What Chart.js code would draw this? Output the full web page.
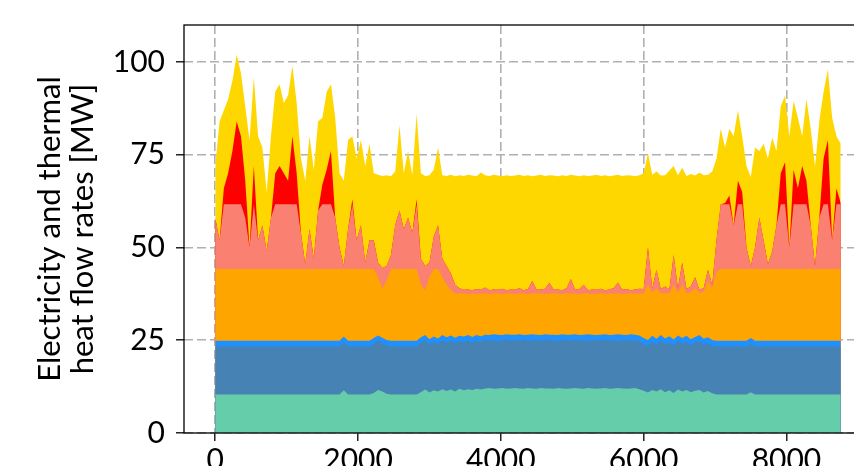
<!DOCTYPE html>
<html>
<head>
<meta charset="utf-8">
<script src="https://cdn.jsdelivr.net/npm/chart.js@4.4.1/dist/chart.umd.min.js"></script>
<style>
  html, body { margin: 0; padding: 0; background: #fff; overflow: hidden; }
  #wrap { width: 854px; height: 466px; overflow: hidden; }
</style>
</head>
<body>
<div id="wrap"><canvas id="myChart" width="900" height="480"></canvas></div>
<script>
// sample times: one point every 60 h over the year
const hours = Array.from({ length: 147 }, (_, i) => i * 60);

const xTicks = [0, 2000, 4000, 6000, 8000];
const yTicks = [0, 25, 50, 75, 100];
const yTitle = ['Electricity and thermal', 'heat flow rates [MW]'];

// upper edge of each stacked layer [MW]
const tealTop = [
    10.4, 10.4, 10.4, 10.4, 10.4, 10.4, 10.4, 10.4, 10.4, 10.4,
    10.4, 10.4, 10.4, 10.4, 10.4, 10.4, 10.4, 10.4, 10.4, 10.4,
    10.4, 10.4, 10.4, 10.4, 10.4, 10.4, 10.4, 10.4, 10.4, 10.4,
    11.5, 10.4, 10.4, 10.4, 10.4, 10.4, 10.4, 10.8, 11.6, 11.2,
    10.6, 10.4, 10.4, 10.4, 10.4, 10.4, 10.4, 10.4, 11.0, 11.7,
    10.9, 11.5, 11.2, 11.8, 11.3, 11.7, 11.2, 11.9, 11.5, 11.8,
    11.6, 11.9, 11.7, 12.0, 12.1, 11.9, 12.0, 12.1, 11.9, 12.0,
    12.1, 12.0, 11.9, 12.1, 12.0, 11.9, 12.1, 12.0, 12.0, 11.9,
    12.1, 12.0, 11.9, 12.0, 12.1, 12.0, 11.9, 12.1, 12.0, 11.9,
    12.0, 12.1, 11.9, 12.0, 12.1, 12.0, 11.9, 12.0, 12.1, 11.8,
    11.4, 10.9, 11.6, 11.2, 11.8, 11.0, 11.5, 10.8, 11.7, 11.2,
    11.6, 11.0, 11.4, 11.6, 10.9, 11.3, 10.7, 10.4, 10.4, 10.4,
    10.4, 10.4, 10.4, 10.4, 10.4, 11.0, 10.4, 10.4, 10.4, 10.4,
    10.4, 10.4, 10.4, 10.4, 10.4, 10.4, 10.4, 10.4, 10.4, 10.4,
    10.4, 10.4, 10.4, 10.4, 10.4, 10.4, 10.4
];

const steelTop = [
    23.3, 23.3, 23.3, 23.3, 23.3, 23.3, 23.3, 23.3, 23.3, 23.3,
    23.3, 23.3, 23.3, 23.3, 23.3, 23.3, 23.3, 23.3, 23.3, 23.3,
    23.3, 23.3, 23.3, 23.3, 23.3, 23.3, 23.3, 23.3, 23.3, 23.3,
    24.5, 23.3, 23.3, 23.3, 23.3, 23.3, 23.3, 24.0, 25.0, 24.2,
    23.6, 23.3, 23.3, 23.3, 23.3, 23.3, 23.3, 23.3, 24.4, 25.0,
    23.8, 24.6, 24.0, 25.0, 24.3, 24.9, 24.2, 24.8, 24.5, 25.0,
    24.4, 24.9, 24.6, 25.1, 24.8, 25.1, 24.7, 25.0, 25.2, 24.8,
    25.1, 24.9, 25.2, 24.7, 25.0, 25.1, 24.8, 25.2, 24.9, 25.0,
    24.7, 25.1, 25.0, 24.8, 25.2, 24.9, 25.0, 24.7, 25.1, 25.0,
    24.8, 25.2, 24.9, 25.0, 24.7, 25.1, 25.0, 24.8, 25.1, 24.6,
    24.0, 23.5, 24.6, 23.8, 24.9, 23.9, 24.5, 23.6, 24.8, 24.0,
    24.6, 23.7, 24.3, 24.8, 23.8, 24.2, 23.5, 23.3, 23.3, 23.3,
    23.3, 23.3, 23.3, 23.3, 23.3, 24.0, 23.3, 23.3, 23.3, 23.3,
    23.3, 23.3, 23.3, 23.3, 23.3, 23.3, 23.3, 23.3, 23.3, 23.3,
    23.3, 23.3, 23.3, 23.3, 23.3, 23.3, 23.3
];

const blueTop = [
    24.9, 24.9, 24.9, 24.9, 24.9, 24.9, 24.9, 24.9, 24.9, 24.9,
    24.9, 24.9, 24.9, 24.9, 24.9, 24.9, 24.9, 24.9, 24.9, 24.9,
    24.9, 24.9, 24.9, 24.9, 24.9, 24.9, 24.9, 24.9, 24.9, 24.9,
    26.0, 24.9, 24.9, 24.9, 24.9, 24.9, 24.9, 25.6, 26.3, 25.7,
    25.1, 24.9, 24.9, 24.9, 24.9, 24.9, 24.9, 24.9, 25.8, 26.4,
    25.3, 26.0, 25.5, 26.4, 25.8, 26.3, 25.7, 26.2, 26.0, 26.4,
    25.9, 26.4, 26.1, 26.5, 26.4, 26.6, 26.5, 26.4, 26.6, 26.5,
    26.5, 26.6, 26.4, 26.5, 26.6, 26.5, 26.4, 26.6, 26.5, 26.5,
    26.4, 26.6, 26.5, 26.5, 26.6, 26.4, 26.5, 26.6, 26.5, 26.4,
    26.5, 26.6, 26.4, 26.5, 26.6, 26.5, 26.4, 26.6, 26.5, 26.3,
    25.6, 25.1, 26.2, 25.4, 26.4, 25.5, 26.1, 25.2, 26.3, 25.6,
    26.2, 25.3, 25.9, 26.4, 25.4, 25.8, 25.1, 24.9, 24.9, 24.9,
    24.9, 24.9, 24.9, 24.9, 24.9, 25.6, 24.9, 24.9, 24.9, 24.9,
    24.9, 24.9, 24.9, 24.9, 24.9, 24.9, 24.9, 24.9, 24.9, 24.9,
    24.9, 24.9, 24.9, 24.9, 24.9, 24.9, 24.9
];

const orangeTop = [
    44.2, 44.2, 44.2, 44.2, 44.2, 44.2, 44.2, 44.2, 44.2, 44.2,
    44.2, 44.2, 44.2, 44.2, 44.2, 44.2, 44.2, 44.2, 44.2, 44.2,
    44.2, 44.2, 44.2, 44.2, 44.2, 44.2, 44.2, 44.2, 44.2, 44.2,
    44.2, 44.2, 44.2, 44.2, 44.2, 44.2, 44.2, 44.2, 42.0, 39.0,
    41.0, 44.2, 44.2, 44.2, 44.2, 44.2, 44.2, 44.2, 40.0, 38.5,
    42.0, 44.2, 44.2, 42.0, 40.0, 38.5, 37.7, 37.6, 37.6, 37.5,
    37.6, 37.5, 37.7, 37.6, 37.5, 37.6, 37.7, 37.5, 37.6, 37.6,
    37.5, 37.7, 37.6, 37.5, 37.6, 37.7, 37.6, 37.5, 37.6, 37.7,
    37.6, 37.5, 37.7, 37.6, 37.6, 37.5, 37.7, 37.6, 37.5, 37.6,
    37.7, 37.5, 37.6, 37.6, 37.7, 37.5, 37.6, 37.7, 37.6, 37.6,
    37.7, 40.0, 37.8, 39.0, 37.7, 37.8, 37.7, 40.0, 37.8, 40.0,
    37.7, 38.0, 39.0, 37.8, 38.0, 41.0, 39.0, 43.5, 44.2, 44.2,
    44.2, 44.2, 44.2, 44.2, 44.2, 44.2, 44.2, 44.2, 44.2, 44.2,
    44.2, 44.2, 44.2, 44.2, 44.2, 44.2, 44.2, 44.2, 44.2, 44.2,
    44.2, 44.2, 44.2, 44.2, 44.2, 44.2, 44.2
];

const salmonTop = [
    58.0, 52.0, 61.7, 61.7, 61.7, 61.7, 61.7, 58.0, 50.0, 61.7,
    52.0, 56.0, 49.0, 58.0, 61.7, 61.7, 61.7, 61.7, 61.7, 61.7,
    54.0, 45.5, 55.0, 47.0, 60.0, 61.7, 61.7, 61.7, 58.0, 50.0,
    45.0, 55.0, 61.7, 52.0, 56.0, 46.0, 52.0, 52.0, 46.0, 44.5,
    45.0, 48.0, 56.0, 60.0, 55.0, 58.0, 54.0, 61.7, 47.0, 45.0,
    46.0, 53.0, 56.0, 47.0, 45.0, 43.0, 40.0, 39.0, 38.6, 38.7,
    38.5, 38.8, 38.6, 39.2, 38.5, 38.7, 38.6, 38.9, 38.5, 38.7,
    38.6, 39.0, 38.5, 38.8, 41.0, 38.6, 38.7, 38.9, 40.5, 38.6,
    38.7, 38.5, 39.0, 41.5, 38.6, 38.8, 40.0, 38.5, 38.7, 38.6,
    38.9, 38.5, 38.7, 39.1, 40.5, 38.6, 38.8, 38.5, 38.7, 38.9,
    38.8, 50.0, 39.0, 44.0, 38.8, 39.5, 38.7, 48.0, 39.0, 46.0,
    38.8, 39.5, 42.0, 38.7, 39.0, 44.0, 40.0, 52.0, 61.7, 61.7,
    61.7, 56.0, 61.7, 61.7, 50.0, 45.0, 50.0, 58.0, 52.0, 45.5,
    49.0, 56.0, 61.7, 61.7, 50.0, 61.7, 61.7, 61.7, 61.7, 56.0,
    45.0, 58.0, 61.7, 61.7, 52.0, 61.7, 61.7
];

const redTop = [
    58.0, 52.0, 66.0, 70.0, 76.0, 84.0, 80.0, 68.0, 50.0, 72.0,
    52.0, 56.0, 49.0, 58.0, 70.0, 72.0, 70.0, 68.0, 80.0, 70.0,
    54.0, 45.5, 55.0, 47.0, 60.0, 67.0, 71.0, 76.0, 58.0, 50.0,
    45.0, 55.0, 63.0, 52.0, 56.0, 46.0, 52.0, 52.0, 46.0, 44.5,
    45.0, 48.0, 56.0, 60.0, 55.0, 58.0, 54.0, 63.0, 47.0, 45.0,
    46.0, 53.0, 56.0, 47.0, 45.0, 43.0, 40.0, 39.0, 38.6, 38.7,
    38.5, 38.8, 38.6, 39.2, 38.5, 38.7, 38.6, 38.9, 38.5, 38.7,
    38.6, 39.0, 38.5, 38.8, 41.0, 38.6, 38.7, 38.9, 40.5, 38.6,
    38.7, 38.5, 39.0, 41.5, 38.6, 38.8, 40.0, 38.5, 38.7, 38.6,
    38.9, 38.5, 38.7, 39.1, 40.5, 38.6, 38.8, 38.5, 38.7, 38.9,
    38.8, 50.0, 39.0, 44.0, 38.8, 39.5, 38.7, 48.0, 39.0, 46.0,
    38.8, 39.5, 42.0, 38.7, 39.0, 44.0, 40.0, 52.0, 61.7, 62.0,
    64.0, 56.0, 68.0, 65.0, 50.0, 45.0, 50.0, 58.0, 52.0, 45.5,
    49.0, 56.0, 70.0, 73.0, 50.0, 71.0, 66.0, 72.0, 68.0, 56.0,
    45.0, 58.0, 74.0, 79.0, 52.0, 66.0, 62.0
];

const goldTop = [
    72.0, 84.0, 87.0, 90.0, 95.0, 102.0, 97.0, 88.0, 79.0, 96.0,
    80.0, 77.0, 65.0, 80.0, 92.0, 94.0, 89.0, 91.0, 99.0, 89.0,
    74.0, 68.0, 80.0, 71.0, 84.0, 85.0, 92.0, 94.0, 85.0, 70.0,
    68.0, 79.0, 80.0, 74.0, 79.0, 72.0, 78.0, 70.0, 69.6, 69.3,
    69.5, 69.2, 70.5, 83.0, 70.0, 76.0, 69.5, 86.0, 70.0, 69.3,
    69.5, 71.0, 77.0, 69.5, 69.3, 69.6, 69.2, 69.5, 69.3, 69.6,
    69.4, 69.2, 70.2, 69.5, 69.3, 69.6, 69.4, 69.2, 69.5, 69.3,
    69.4, 69.6, 69.3, 69.5, 69.2, 69.4, 69.6, 69.3, 69.5, 69.4,
    69.2, 69.5, 69.3, 69.6, 69.4, 69.2, 69.5, 69.3, 69.4, 69.6,
    69.3, 69.5, 69.2, 69.4, 69.6, 69.3, 69.5, 69.4, 69.2, 69.5,
    70.0, 75.5, 69.6, 70.5, 69.4, 69.5, 70.8, 72.0, 69.5, 71.5,
    69.3, 69.8, 69.4, 70.2, 69.5, 69.6, 70.5, 74.0, 82.0, 77.0,
    82.0, 80.0, 87.0, 80.0, 72.0, 69.0, 77.0, 76.0, 78.0, 74.0,
    79.6, 76.0, 88.0, 91.0, 80.0, 89.5, 85.0, 80.0, 90.0, 82.0,
    72.0, 84.0, 92.0, 98.0, 85.0, 80.0, 78.0
];

// bottom layer first: index 0 is painted last, so it sits on top
const layers = [
    { values: tealTop,   color: '#66cdaa' },
    { values: steelTop,  color: '#4682b4' },
    { values: blueTop,   color: '#1e90ff' },
    { values: orangeTop, color: '#ffa500' },
    { values: salmonTop, color: '#fa8072' },
    { values: redTop,    color: '#ff0000' },
    { values: goldTop,   color: '#ffd700' }
];

const spines = {
    id: 'spines',
    afterDatasetsDraw(chart) {
        const { ctx, chartArea: a } = chart;
        ctx.save();
        ctx.strokeStyle = '#000';
        ctx.lineWidth = 1.3;
        ctx.strokeRect(a.left, a.top, a.right - a.left, a.bottom - a.top);
        ctx.restore();
    }
};

// keep the plot box where the picture has it, whatever the label sizes
function noPad(axis) {
    axis.paddingTop = 0;
    axis.paddingBottom = 0;
    axis.paddingLeft = 0;
    axis.paddingRight = 0;
}

const tickFont = { family: 'Lato', size: 30 };
const gridOpts = {
    color: '#b0b0b0',
    lineWidth: 1.6,
    tickColor: '#000',
    tickWidth: 1.3,
    tickLength: 8,
    tickBorderDash: []
};

const config = {
    type: 'line',
    data: {
        datasets: layers.map(l => ({
            data: hours.map((h, i) => ({ x: h, y: l.values[i] })),
            backgroundColor: l.color,
            borderColor: 'rgba(0,0,0,0)',
            borderWidth: 0,
            pointRadius: 0,
            tension: 0,
            fill: 'origin'
        }))
    },
    options: {
        responsive: false,
        animation: false,
        layout: { padding: { top: 25, right: 28, left: 0, bottom: 0 } },
        plugins: { legend: { display: false }, tooltip: { enabled: false } },
        scales: {
            x: {
                type: 'linear',
                min: -438,
                max: 9198,
                afterBuildTicks: axis => { axis.ticks = xTicks.map(v => ({ value: v })); },
                afterFit: axis => { axis.height = 47; noPad(axis); },
                border: { display: false, dash: [9, 4] },
                grid: gridOpts,
                ticks: {
                    color: '#000', font: tickFont, padding: 1,
                    maxRotation: 0, autoSkip: false,
                    callback: v => String(v)
                }
            },
            y: {
                min: 0,
                max: 110,
                afterBuildTicks: axis => { axis.ticks = yTicks.map(v => ({ value: v })); },
                afterFit: axis => { axis.width = 184; noPad(axis); },
                border: { display: false, dash: [9, 4] },
                grid: gridOpts,
                ticks: { color: '#000', font: tickFont, padding: 11, callback: v => String(v) },
                title: {
                    display: true,
                    text: yTitle,
                    color: '#000',
                    font: { family: 'Lato', size: 31, lineHeight: 1.07 },
                    padding: { top: 33, bottom: 0 }
                }
            }
        }
    },
    plugins: [spines]
};

const myChart = new Chart(document.getElementById('myChart'), config);
</script>
</body>
</html>
